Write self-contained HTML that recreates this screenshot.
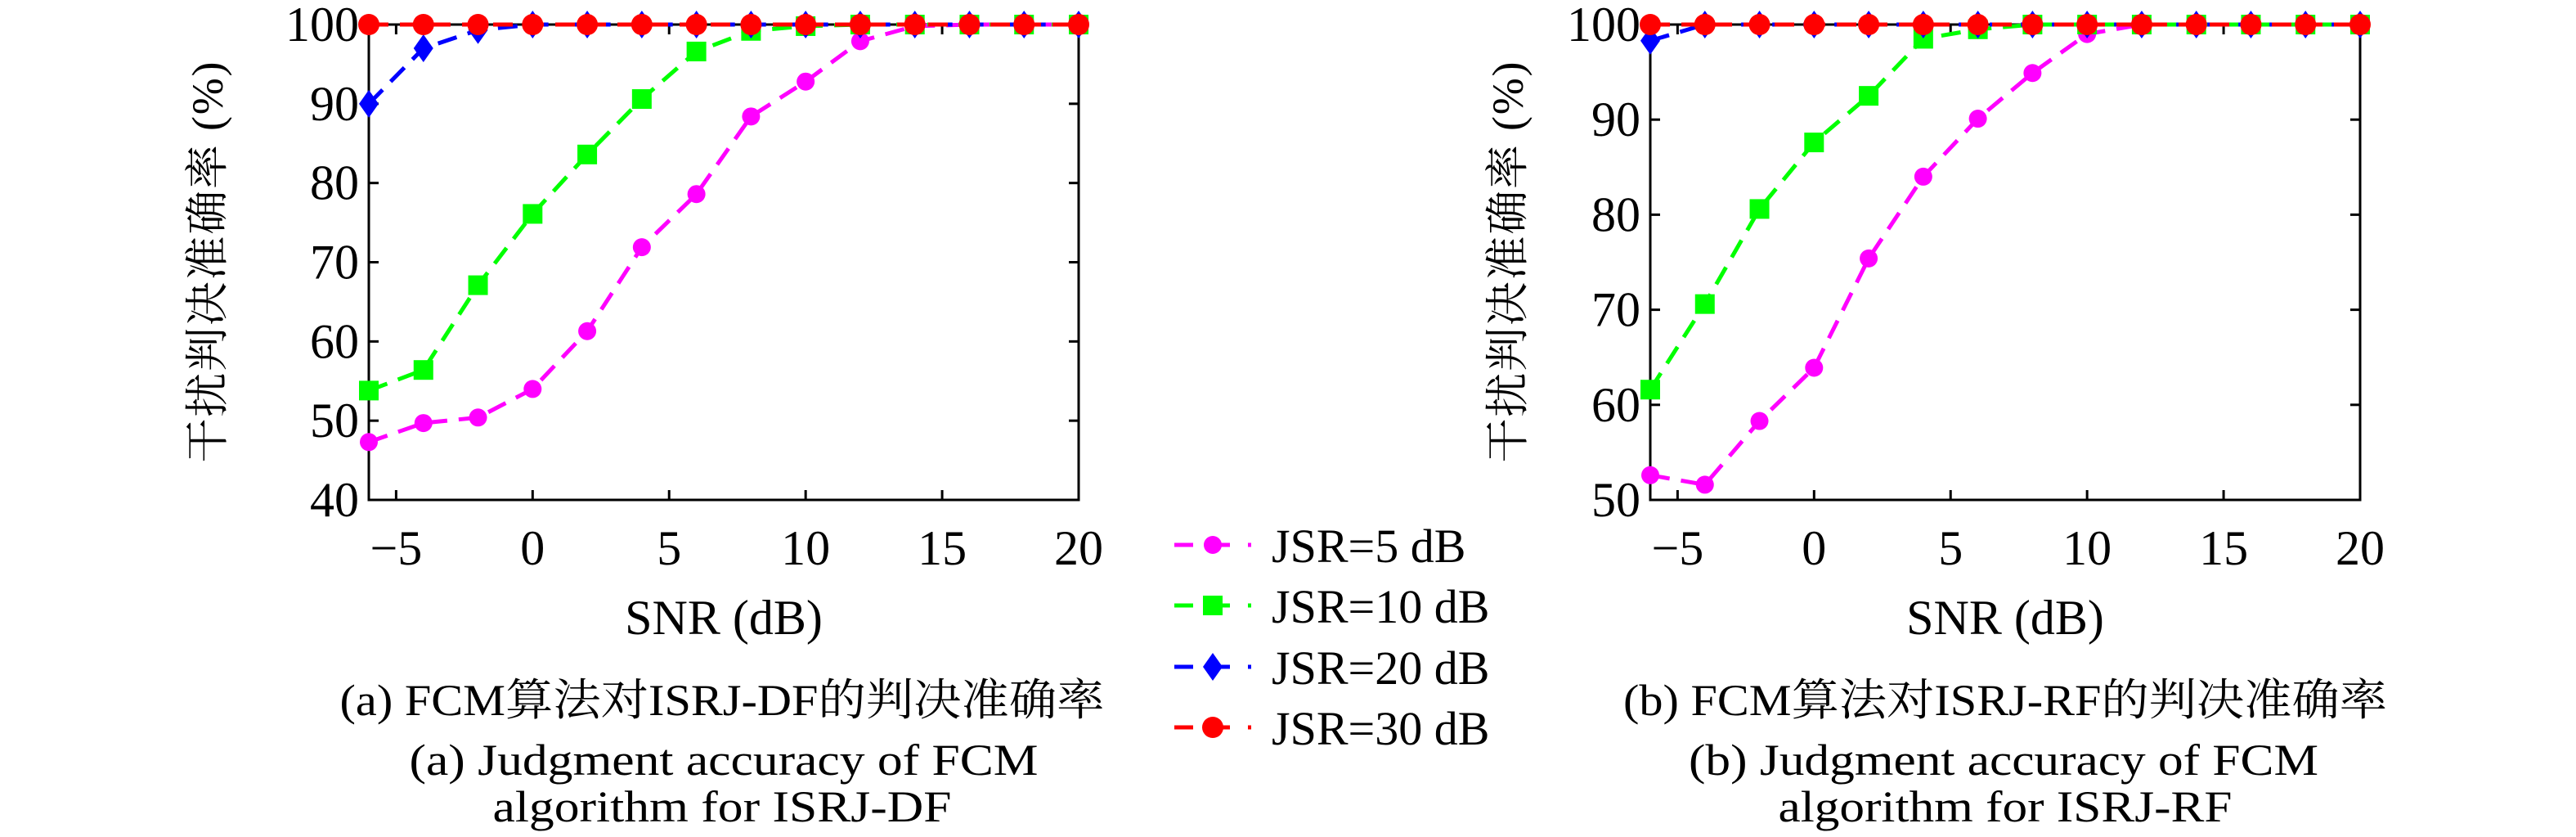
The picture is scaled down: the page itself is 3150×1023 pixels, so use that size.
<!DOCTYPE html>
<html><head><meta charset="utf-8"><style>
html,body{margin:0;padding:0;background:#fff;}
svg{display:block;}
svg text{font-family:"Liberation Serif","Noto Serif CJK SC",serif !important;fill:#000;}
</style></head><body>
<svg id="fig" width="3150" height="1023" viewBox="0 0 3150 1023" xmlns="http://www.w3.org/2000/svg" font-family="Liberation Serif, Noto Serif CJK SC, serif">
<g id="plots"></g>
<g id="legend"></g>
<text x="883" y="874" font-size="54" text-anchor="middle" textLength="935" lengthAdjust="spacingAndGlyphs">(a) FCM算法对ISRJ-DF的判决准确率</text>
<text x="885" y="947" font-size="54" text-anchor="middle" textLength="769" lengthAdjust="spacingAndGlyphs">(a) Judgment accuracy of FCM</text>
<text x="883" y="1004" font-size="54" text-anchor="middle" textLength="561" lengthAdjust="spacingAndGlyphs">algorithm for ISRJ-DF</text>
<text x="2452" y="874" font-size="54" text-anchor="middle" textLength="934" lengthAdjust="spacingAndGlyphs">(b) FCM算法对ISRJ-RF的判决准确率</text>
<text x="2450" y="947" font-size="54" text-anchor="middle" textLength="770" lengthAdjust="spacingAndGlyphs">(b) Judgment accuracy of FCM</text>
<text x="2452" y="1004" font-size="54" text-anchor="middle" textLength="555" lengthAdjust="spacingAndGlyphs">algorithm for ISRJ-RF</text>
</svg>
<script>
const snr = [-6,-4,-2,0,2,4,6,8,10,12,14,16,18,20];
const xTicks = [-5,0,5,10,15,20];
const yTicksA = [40,50,60,70,80,90,100];
const yTicksB = [50,60,70,80,90,100];
const seriesNames = ['JSR=5 dB','JSR=10 dB','JSR=20 dB','JSR=30 dB'];
const a_jsr5  = [47.3,49.7,50.4,54,61.3,71.9,78.6,88.4,92.8,97.9,99.8,100,100,100];
const a_jsr10 = [53.8,56.4,67.1,76.1,83.6,90.6,96.6,99.2,99.8,100,100,100,100,100];
const a_jsr20 = [90,97,99.3,100,100,100,100,100,100,100,100,100,100,100];
const a_jsr30 = [100,100,100,100,100,100,100,100,100,100,100,100,100,100];
const b_jsr5  = [52.6,51.6,58.3,63.9,75.4,84,90.1,94.9,99,100,100,100,100,100];
const b_jsr10 = [61.6,70.6,80.6,87.6,92.5,98.5,99.5,100,100,100,100,100,100,100];
const b_jsr20 = [98.3,100,100,100,100,100,100,100,100,100,100,100,100,100];
const b_jsr30 = [100,100,100,100,100,100,100,100,100,100,100,100,100,100];

const NS='http://www.w3.org/2000/svg';
const FONT='Liberation Serif, Noto Serif CJK SC, serif';
const colors=['#ff00ff','#00ff00','#0000ff','#ff0000'];
const markers=['circle','square','diamond','bigcircle'];
function mk(tag,attrs,parent){const e=document.createElementNS(NS,tag);for(const k in attrs)e.setAttribute(k,attrs[k]);if(tag==='text')e.setAttribute('font-family',FONT);parent.appendChild(e);return e;}
function marker(g,type,x,y,c){
  let e;
  if(type==='circle'){e=mk('ellipse',{cx:x,cy:y,rx:11,ry:11,fill:c},g);}
  else if(type==='bigcircle'){e=mk('ellipse',{cx:x,cy:y,rx:13,ry:13,fill:c},g);}
  else if(type==='square'){e=mk('rect',{x:x-12,y:y-12,width:24,height:24,fill:c},g);}
  else {e=mk('polygon',{points:`${x},${y-17} ${x+12},${y} ${x},${y+17} ${x-12},${y}`,fill:c},g);}
  return e;
}
function plot(id,x0,x1,y0,y1,ymin,ymax,yTicks,series,ylabX){
  const root=document.getElementById('plots');
  const g=mk('g',{},root);
  
  
  const sx=v=>x0+(v-(-6))/(26)*(x1-x0);
  const sy=v=>y1-(v-ymin)/(ymax-ymin)*(y1-y0);
  const frame=mk('rect',{x:x0,y:y0,width:x1-x0,height:y1-y0,fill:'none',stroke:'#000','stroke-width':3},g);
  
  
  xTicks.forEach(t=>{
    const x=sx(t);
    mk('line',{x1:x,y1:y1,x2:x,y2:y1-12,stroke:'#000','stroke-width':3},g);
    mk('line',{x1:x,y1:y0,x2:x,y2:y0+12,stroke:'#000','stroke-width':3},g);
    const tx=mk('text',{x:x,y:690,'font-size':60,'text-anchor':'middle'},g);
    tx.textContent=(t<0?'\u2212'+(-t):String(t));
    
    
  });
  yTicks.forEach(t=>{
    const y=sy(t);
    mk('line',{x1:x0,y1:y,x2:x0+12,y2:y,stroke:'#000','stroke-width':3},g);
    mk('line',{x1:x1,y1:y,x2:x1-12,y2:y,stroke:'#000','stroke-width':3},g);
    const tx=mk('text',{x:x0-12,y:y+20,'font-size':60,'text-anchor':'end'},g);
    tx.textContent=String(t);
    
    
  });
  const xl=mk('text',{x:(x0+x1)/2,y:775,'font-size':60,'text-anchor':'middle'},g);
  xl.textContent='SNR (dB)';
  
  
  const yl=mk('text',{x:0,y:0,'font-size':54,'text-anchor':'middle',textLength:490,lengthAdjust:'spacing',transform:`translate(${ylabX},${(y0+y1)/2}) rotate(-90)`},g);
  yl.textContent='干扰判决准确率 (%)';
  
  
  series.forEach((vals,i)=>{
    const sg=mk('g',{},g);
    
    
    const pts=vals.map((v,j)=>sx(snr[j])+','+sy(v)).join(' ');
    const pl=mk('polyline',{points:pts,fill:'none',stroke:colors[i],'stroke-width':5,'stroke-dasharray':'24 14'},sg);
    
    
    vals.forEach((v,j)=>{
      const m=marker(sg,markers[i],sx(snr[j]),sy(v),colors[i]);
      
      
    });
  });
}
plot('a',451,1319,30,611,40,100,yTicksA,[a_jsr5,a_jsr10,a_jsr20,a_jsr30],272);
plot('b',2018,2886,30,611,50,100,yTicksB,[b_jsr5,b_jsr10,b_jsr20,b_jsr30],1862);

const lg=document.getElementById('legend');
const rowsY=[666,740,815,889];
seriesNames.forEach((n,i)=>{
  const g=mk('g',{},lg);
  
  
  const y=rowsY[i];
  mk('line',{x1:1436,y1:y,x2:1459,y2:y,stroke:colors[i],'stroke-width':5},g);
  mk('line',{x1:1483,y1:y,x2:1504,y2:y,stroke:colors[i],'stroke-width':5},g);
  mk('line',{x1:1526,y1:y,x2:1530,y2:y,stroke:colors[i],'stroke-width':5},g);
  marker(g,markers[i],1483,y,colors[i]);
  const t=mk('text',{x:1555,y:y+21,'font-size':58},g);
  t.textContent=n;
});
</script>
</body></html>
